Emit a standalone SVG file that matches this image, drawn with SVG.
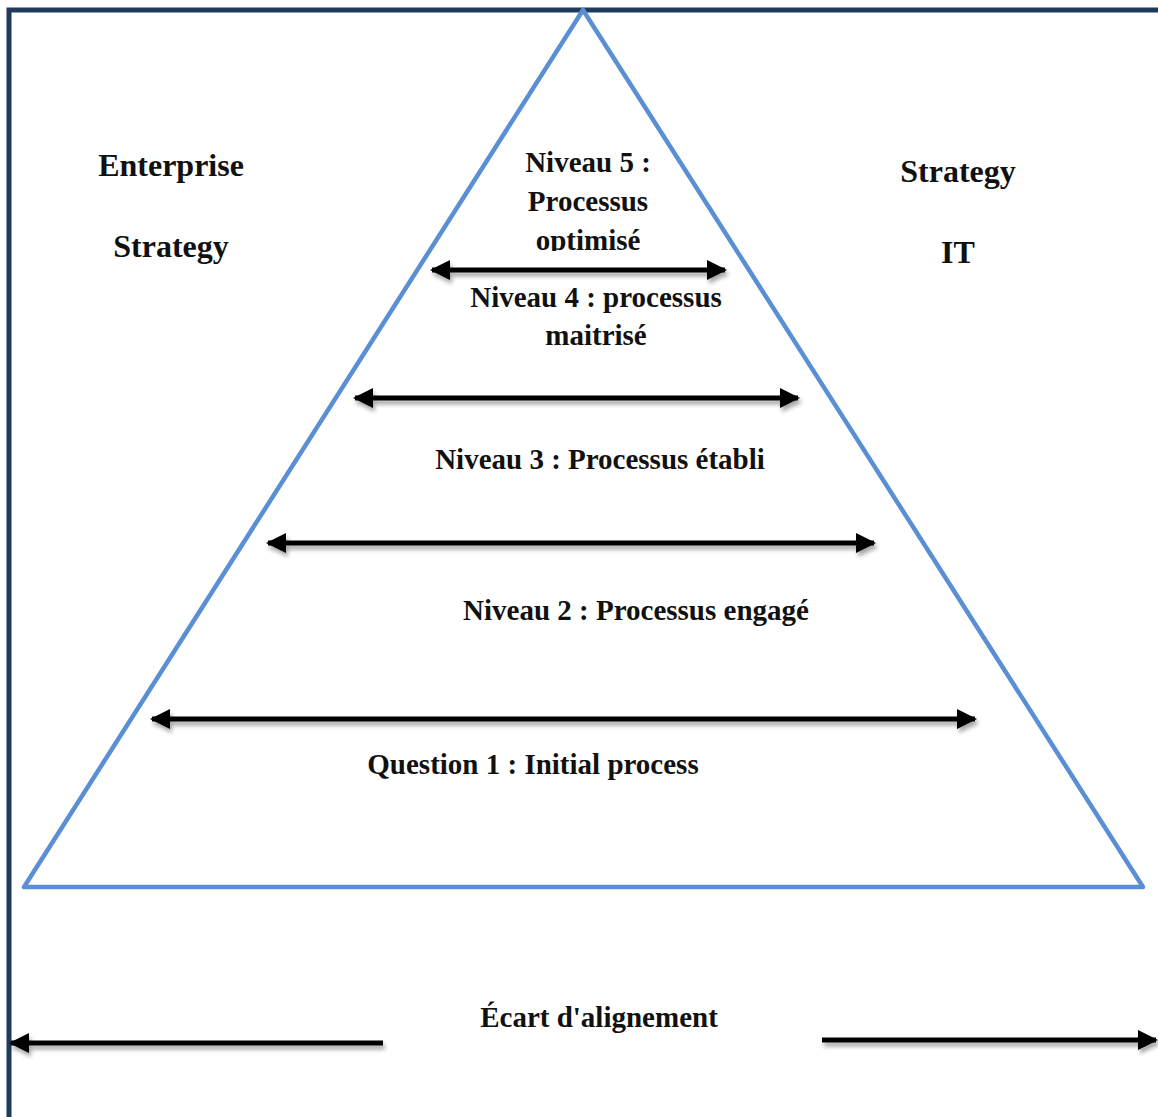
<svg xmlns="http://www.w3.org/2000/svg" width="1158" height="1117" viewBox="0 0 1158 1117">
<defs>
<style>
.t{font-family:"Liberation Serif","Times New Roman",serif;font-weight:bold;font-size:29px;fill:#111;text-anchor:middle}
.s{font-size:32px}
.a{stroke:#000;stroke-width:5;fill:none}
</style>
<marker id="ah" viewBox="0 0 10 10" refX="9" refY="5" markerWidth="4" markerHeight="4" orient="auto-start-reverse" markerUnits="strokeWidth">
<path d="M0,0 L10,5 L0,10 Z" fill="#000"/>
</marker>
<filter id="sh" x="-5%" y="-200%" width="110%" height="500%">
<feGaussianBlur in="SourceAlpha" stdDeviation="2"/>
<feOffset dx="2" dy="4" result="b"/>
<feComponentTransfer><feFuncA type="linear" slope="0.35"/></feComponentTransfer>
<feMerge><feMergeNode/><feMergeNode in="SourceGraphic"/></feMerge>
</filter>
<clipPath id="c5"><rect x="400" y="130" width="380" height="121"/></clipPath>
</defs>
<rect id="frame" x="9" y="10" width="1170" height="1130" fill="#fff" stroke="#1f3a5a" stroke-width="5"/>
<g id="pyramid">
<polygon points="583,10 24,887 1143,887" fill="none" stroke="#5b8fd5" stroke-width="4.5" stroke-linejoin="round"/>
</g>
<g id="connectors" filter="url(#sh)">
<line class="a" x1="432" y1="270" x2="725" y2="270" marker-start="url(#ah)" marker-end="url(#ah)"/>
<line class="a" x1="355" y1="398" x2="798" y2="398" marker-start="url(#ah)" marker-end="url(#ah)"/>
<line class="a" x1="268" y1="543" x2="874" y2="543" marker-start="url(#ah)" marker-end="url(#ah)"/>
<line class="a" x1="152" y1="719" x2="975" y2="719" marker-start="url(#ah)" marker-end="url(#ah)"/>
<line class="a" x1="383" y1="1043" x2="11" y2="1043" marker-end="url(#ah)"/>
<line class="a" x1="822" y1="1040" x2="1156" y2="1040" marker-end="url(#ah)"/>
</g>
<g id="enterprise-strategy">
<text class="t s" x="171" y="176">Enterprise</text>
<text class="t s" x="171" y="257">Strategy</text>
</g>
<g id="strategy-it">
<text class="t s" x="958" y="182">Strategy</text>
<text class="t s" x="958" y="263">IT</text>
</g>
<g id="niveau5" clip-path="url(#c5)">
<text class="t" x="588" y="172">Niveau 5 :</text>
<text class="t" x="588" y="211">Processus</text>
<text class="t" x="588" y="250">optimisé</text>
</g>
<g id="niveau4">
<text class="t" x="596" y="307">Niveau 4 : processus</text>
<text class="t" x="596" y="345">maitrisé</text>
</g>
<g id="niveau3"><text class="t" x="600" y="469">Niveau 3 : Processus établi</text></g>
<g id="niveau2"><text class="t" x="636" y="620">Niveau 2 : Processus engagé</text></g>
<g id="question1"><text class="t" x="533" y="774">Question 1 : Initial process</text></g>
<g id="ecart"><text class="t" x="599" y="1027">Écart d'alignement</text></g>
</svg>
